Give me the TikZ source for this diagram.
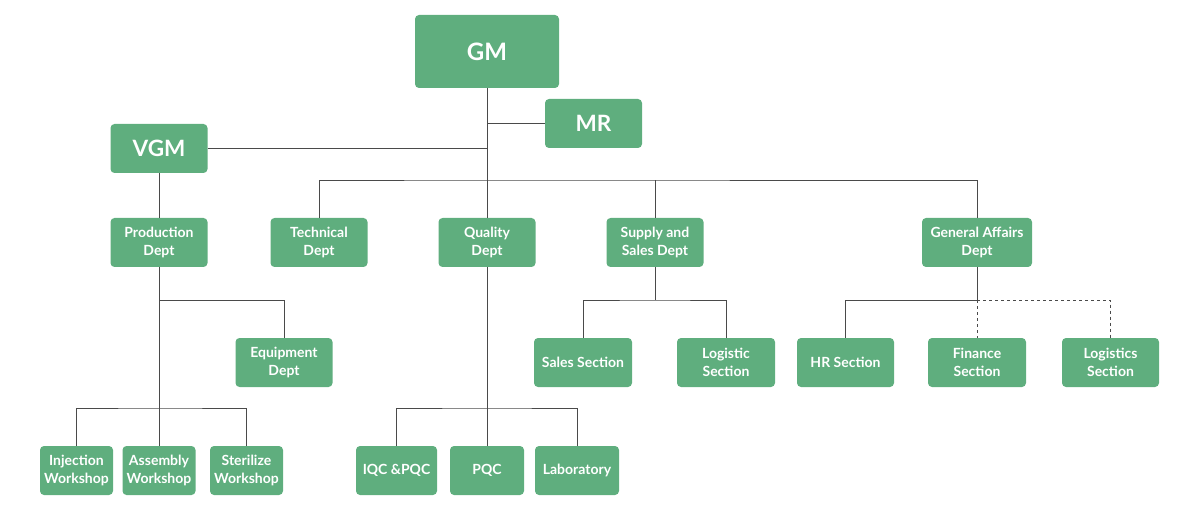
\documentclass[tikz,border=0pt]{standalone}
\usepackage{fontspec}
\setmainfont{Lato}
\usepackage{tikz}

\definecolor{boxgreen}{HTML}{5FAE7E}
\definecolor{linegray}{HTML}{4A4A4A}

\begin{document}
\begin{tikzpicture}[x=1pt,y=-1pt,
        box/.style={rectangle,rounded corners=4pt,fill=boxgreen,text=white,
          font=\bfseries\fontsize{14}{18}\selectfont,align=center,
          inner sep=0pt,minimum width=97pt,minimum height=49pt},
        bigbox/.style={box,font=\bfseries\fontsize{22.5}{26}\selectfont},
        wbox/.style={box,minimum width=73pt},
        link/.style={draw=linegray,line width=0.8pt}]

  \useasboundingbox (0,0) rectangle (1200,513);

  % top of the chart
  \node[bigbox,minimum width=144pt,minimum height=73pt,
        font=\bfseries\fontsize{24}{28}\selectfont] (gm) at (487,51.5) {GM};
  \node[bigbox] (mr)  at (593.5,123.5) {MR};
  \node[bigbox] (vgm) at (159,148.5) {VGM};

  % departments
  \node[box] (pd)  at (159,242.5)   {Production\\Dept};
  \node[box] (td)  at (319,242.5)   {Technical\\Dept};
  \node[box] (qd)  at (487,242.5)   {Quality\\Dept};
  \node[box] (ssd) at (655,242.5)   {Supply and\\Sales Dept};
  \node[box,minimum width=110pt] (gad) at (977,242.5) {General Affairs\\Dept};

  % sections
  \node[box] (eqd) at (284,362.5) {Equipment\\Dept};
  \node[box,minimum width=98pt] (sls) at (583,362.5)   {Sales Section};
  \node[box,minimum width=98pt] (lgs) at (726,362.5)   {Logistic\\Section};
  \node[box] (hrs) at (845.5,362.5) {HR Section};
  \node[box,minimum width=98pt] (fin) at (977,362.5)   {Finance\\Section};
  \node[box] (lgx) at (1110.5,362.5) {Logistics\\Section};

  % workshops and labs
  \node[wbox] (inj) at (76.5,470.5)  {Injection\\Workshop};
  \node[wbox] (asw) at (159,470.5)   {Assembly\\Workshop};
  \node[wbox] (stw) at (246.5,470.5) {Sterilize\\Workshop};
  \node[box,minimum width=81pt] (iqc) at (396.5,470.5) {IQC \&PQC};
  \node[wbox,minimum width=74pt] (pqc) at (487,470.5) {PQC};
  \node[box,minimum width=84pt] (lab) at (577,470.5) {Laboratory};

  % junction points
  \coordinate (bus) at (487,180);
  \coordinate (pdj) at (159,300);
  \coordinate (pwj) at (159,408);
  \coordinate (qj)  at (487,408);
  \coordinate (ssj) at (655,300);
  \coordinate (gaj) at (977,300);

  \path[link] (gm) -- (bus)
        (mr) -- (mr -| gm)
        (vgm) -- (vgm -| gm)
        (td) |- (bus) -| (gad)
        (qd) -- (qd |- bus)
        (ssd) -- (ssd |- bus)
        (vgm) -- (pd)
        (pd) -- (asw)
        (eqd) |- (pdj)
        (inj) |- (pwj) -| (stw)
        (qd) -- (pqc)
        (iqc) |- (qj) -| (lab)
        (ssd) -- (ssj)
        (sls) |- (ssj) -| (lgs)
        (gad) -- (gaj)
        (hrs) |- (gaj);
  \path[link,dashed] (gaj) -- (fin)
        (gaj) -| (lgx);

\end{tikzpicture}
\end{document}
